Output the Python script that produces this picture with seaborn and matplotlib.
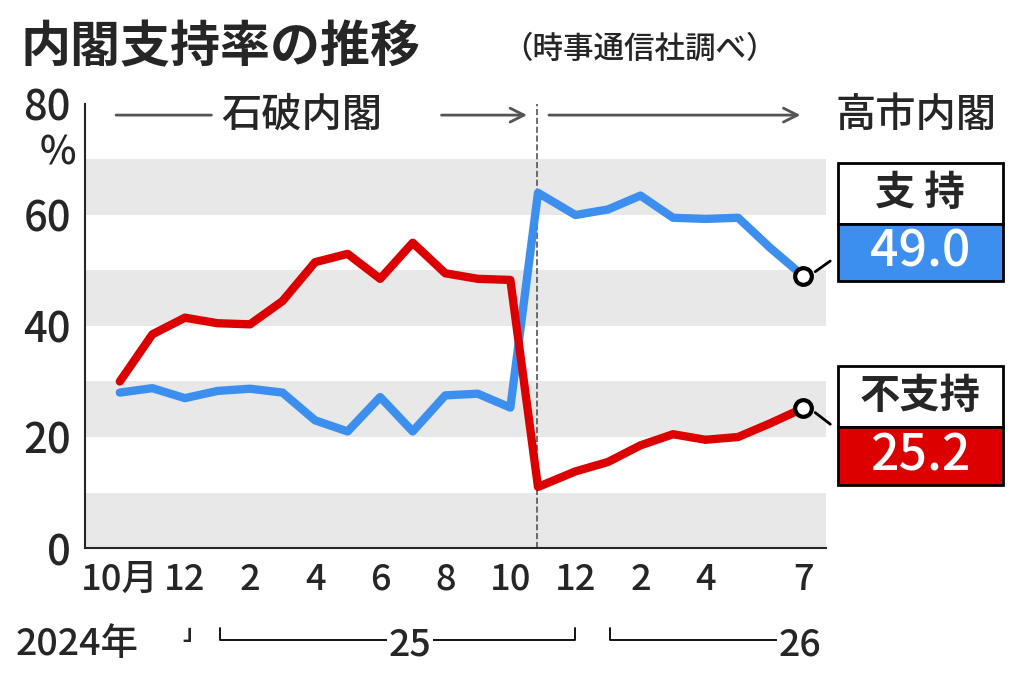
import matplotlib
matplotlib.use("Agg")
import matplotlib.pyplot as plt
import seaborn as sns
import pandas as pd

sns.set_style("white")
plt.rcParams['font.family'] = ['Noto Sans CJK JP', 'DejaVu Sans']
plt.rcParams['font.weight'] = 'bold'

months = [0,1,2,3,4,5,6,7,8,9,10,11,12,12.85,14,15,16,17,18,19,20,21]
support = [28,28.8,27,28.3,28.7,28,23,21,27.2,21,27.5,27.8,25.3,64,60,61,63.5,59.5,59.3,59.5,54,49.0]
oppose = [30,38.5,41.5,40.5,40.3,44.5,51.5,53,48.5,55,49.5,48.5,48.3,11,13.8,15.5,18.5,20.5,19.5,20,22.5,25.2]
tick_pos = [0,2,4,6,8,10,12,14,16,18,21]
tick_labels = ['10月','12','2','4','6','8','10','12','2','4','7']
BLUE = '#3d8fef'; RED = '#dd0000'
W = 'medium'

df = pd.DataFrame({'m': months*2, 'v': support+oppose,
                   's': ['支持']*len(months)+['不支持']*len(months)})

fig = plt.figure(figsize=(10.24, 6.78), dpi=100)
ax = fig.add_axes([85/1024, 1-548/678, (826-85)/1024, (548-104)/678])
for lo in [0, 20, 40, 60]:
    ax.axhspan(lo, lo+10, color='#e8e8e8', zorder=0, lw=0)
sns.lineplot(data=df, x='m', y='v', hue='s', palette={'支持': BLUE, '不支持': RED},
             lw=6, ax=ax, legend=False, zorder=3)
ax.plot([21], [49.0], 'o', ms=12, mfc='white', mec='black', mew=3, zorder=5)
ax.plot([21], [25.2], 'o', ms=12, mfc='white', mec='black', mew=3, zorder=5)
ax.axvline(12.82, color='#555', ls='--', lw=1.2, zorder=2)
ax.set_xlim(-1.07, 21.7); ax.set_ylim(0, 80)
for s in ['top', 'right']:
    ax.spines[s].set_visible(False)
ax.spines['left'].set_linewidth(1.5); ax.spines['bottom'].set_linewidth(1.5)
ax.set_yticks([0,10,20,30,40,50,60,70,80])
ax.set_yticklabels(['0','','20','','40','','60','','80'], fontsize=30, fontweight=W)
ax.set_xticks(tick_pos)
ax.set_xticklabels(tick_labels, fontsize=26, fontweight=W)
ax.tick_params(axis='y', length=8, width=1.5, direction='out', pad=2)
ax.tick_params(axis='x', length=8, width=1.5, direction='out', pad=2)
ax.set_xlabel(''); ax.set_ylabel('')
ax.text(-1.9, 71, '%', fontsize=28, ha='center', va='center', fontweight=W)

fig.text(0.02, 0.93, '内閣支持率の推移', fontsize=36, fontweight='bold', va='center')
fig.text(0.49, 0.928, '（時事通信社調べ）', fontsize=22, fontweight=W, va='center')

# era arrows
ax.annotate('', xy=(-0.2, 78), xytext=(2.9, 78), arrowprops=dict(arrowstyle='-', color='#555', lw=2))
ax.text(5.6, 78, '石破内閣', fontsize=29, ha='center', va='center', fontweight=W)
ax.annotate('', xy=(12.6, 78), xytext=(9.8, 78), arrowprops=dict(arrowstyle='->', color='#555', lw=2, mutation_scale=25))
ax.annotate('', xy=(21.0, 78), xytext=(13.1, 78), arrowprops=dict(arrowstyle='->', color='#555', lw=2, mutation_scale=25))
fig.text(0.895, 0.83, '高市内閣', fontsize=29, ha='center', va='center', fontweight=W)

def box(y0, title, val, col):
    fig.patches.append(plt.Rectangle((838/1024, y0), 165/1024, 0.09, transform=fig.transFigure,
                                     facecolor='white', edgecolor='black', lw=2))
    fig.patches.append(plt.Rectangle((838/1024, y0-0.085), 165/1024, 0.085, transform=fig.transFigure,
                                     facecolor=col, edgecolor='black', lw=2))
    fig.text(920/1024, y0+0.045, title, fontsize=29, ha='center', va='center', fontweight='bold')
    fig.text(920/1024, y0-0.043, val, fontsize=36, ha='center', va='center', color='white', fontweight=W)
box(0.67, '支 持', '49.0', BLUE)
box(0.37, '不支持', '25.2', RED)
ax.annotate('', xy=(21.3, 49.5), xytext=(21.9, 52), annotation_clip=False,
            arrowprops=dict(arrowstyle='-', color='black', lw=2))
ax.annotate('', xy=(21.3, 24.7), xytext=(21.9, 22), annotation_clip=False,
            arrowprops=dict(arrowstyle='-', color='black', lw=2))

fig.text(0.015, 0.05, '2024年', fontsize=27, va='center', fontweight=W)
fig.text(0.178, 0.065, '」', fontsize=16, va='center')
def bracket(x0, x1, lab, xl):
    Y = 678-640
    fig.lines.append(plt.Line2D([x0/1024, x0/1024, x1/1024, x1/1024], [(Y+12)/678, Y/678, Y/678, (Y+12)/678],
                                transform=fig.transFigure, color='black', lw=1.3))
    fig.text(xl/1024, (Y-4)/678, lab, fontsize=27, ha='center', va='center', fontweight=W,
             bbox=dict(facecolor='white', edgecolor='none', pad=1))
bracket(220, 575, '25', 410)
bracket(610, 800, '26', 800)
fig.savefig('out.png', dpi=100)
